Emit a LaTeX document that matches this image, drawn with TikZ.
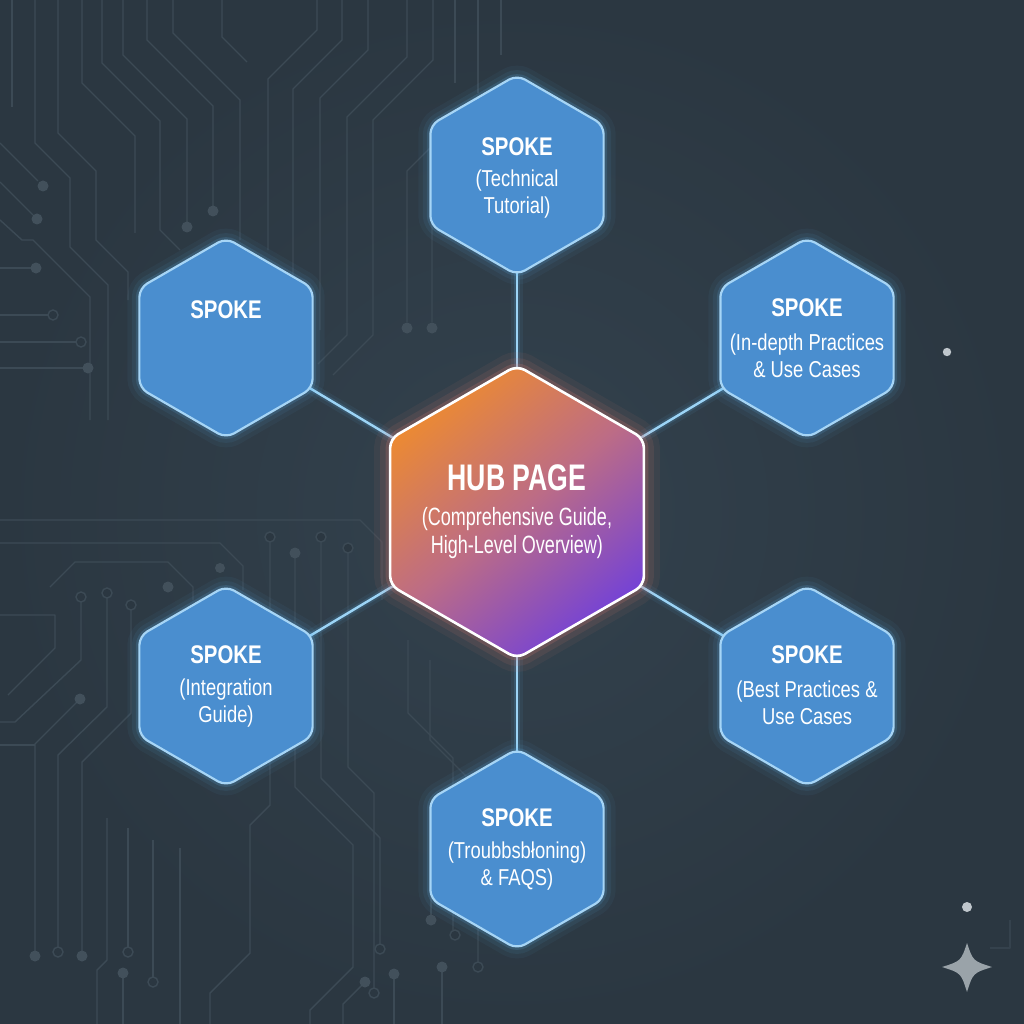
\documentclass[tikz,border=0pt]{standalone}
\usepackage{fontspec}
\newfontfamily\condfont{Liberation Sans}[FakeStretch=0.8]
\newfontfamily\narrowfont{Liberation Sans}[FakeStretch=0.72]
\usetikzlibrary{shapes.geometric}
\definecolor{bgc}{HTML}{2B3741}
\definecolor{bgin}{HTML}{33424E}
\definecolor{tracec}{HTML}{3C4A55}
\definecolor{tdotc}{HTML}{42505B}
\definecolor{spokefill}{HTML}{4A8ECF}
\definecolor{spokeedge}{HTML}{A6D5F6}
\definecolor{glowc}{HTML}{5FB2EE}
\definecolor{linkc}{HTML}{9CD4F6}
\definecolor{hubA}{HTML}{EC8A32}
\definecolor{hubB}{HTML}{BC6C86}
\definecolor{hubC}{HTML}{7442D6}
\definecolor{hubglow}{HTML}{D87A70}
\definecolor{sparkc}{HTML}{9AA3A9}
\definecolor{dotc}{HTML}{BFC6CC}
\pgfdeclarelayer{bglayer}
\pgfdeclarelayer{linklayer}
\pgfsetlayers{bglayer,linklayer,main}
\tikzset{
  hexbase/.style={regular polygon, regular polygon sides=6, shape border rotate=30,
    inner sep=0pt, rounded corners=9pt},
  spokehex/.style={hexbase, minimum size=200pt, fill=spokefill, draw=spokeedge, line width=2.2pt,
    preaction={draw=glowc, line width=24pt, draw opacity=0.05},
    preaction={draw=glowc, line width=15pt, draw opacity=0.08},
    preaction={draw=glowc, line width=7pt, draw opacity=0.16}},
  hubhex/.style={hexbase, minimum size=293pt, draw=white, line width=2.6pt,
    preaction={draw=hubglow, line width=32pt, draw opacity=0.07},
    preaction={draw=hubglow, line width=20pt, draw opacity=0.11},
    preaction={draw=hubglow, line width=9pt, draw opacity=0.2},
    top color=hubA, bottom color=hubC, middle color=hubB, shading angle=40},
  spoketitle/.style={font=\condfont\bfseries\fontsize{25.5}{28}\selectfont, text=white,
    align=center, inner sep=0pt},
  spokesub/.style={font=\condfont\fontsize{23}{27}\selectfont, text=white,
    align=center, inner sep=0pt},
  hubtitle/.style={font=\narrowfont\bfseries\fontsize{37}{40}\selectfont, text=white,
    align=center, inner sep=0pt},
  hubsub/.style={font=\narrowfont\fontsize{25}{28}\selectfont, text=white,
    align=center, inner sep=0pt},
  link/.style={draw=linkc, line width=2.4pt,
    preaction={draw=glowc, line width=12pt, draw opacity=0.07},
    preaction={draw=glowc, line width=6pt, draw opacity=0.15}},
  trace/.style={draw=tracec, line width=1.4pt, line join=round},
  tdot/.style={fill=tdotc},
  tring/.style={draw=tracec, line width=1.4pt, fill=bgc}
}
\begin{document}
\begin{tikzpicture}[x=1pt,y=-1pt]
\useasboundingbox (0,0) rectangle (1024,1024);
\begin{pgfonlayer}{bglayer}
\fill[bgc] (0,0) rectangle (1024,1024);
\shade[inner color=bgin, outer color=bgc] (0,0) rectangle (1024,1024);
% circuit traces, upper left
\draw[trace] (12,0)--(12,107);
\draw[trace] (35,0)--(35,143)--(70,178)--(70,247)--(108,285)--(108,420);
\draw[trace] (58,0)--(58,133)--(96,171)--(96,240)--(128,272)--(128,300);
\draw[trace] (82,0)--(82,83)--(135,136)--(135,233);
\draw[trace] (102,0)--(102,63)--(160,121)--(160,230)--(180,250);
\draw[trace] (123,0)--(123,55)--(187,119)--(187,222);
\draw[trace] (147,0)--(147,40)--(213,106)--(213,206);
\draw[trace] (173,0)--(173,33)--(240,100)--(240,240);
\draw[trace] (222,0)--(222,37)--(247,62);
\draw[trace] (317,0)--(317,30)--(268,79)--(268,250);
\draw[trace] (342,0)--(342,40)--(293,89)--(293,300);
\draw[trace] (368,0)--(368,50)--(320,98)--(320,330);
\draw[trace] (407,0)--(407,57)--(347,117)--(347,335)--(318,364);
\draw[trace] (433,0)--(433,60)--(373,120)--(373,335)--(333,375);
\draw[trace] (455,0)--(455,83);
\draw[trace] (478,0)--(478,93);
\draw[trace] (501,0)--(501,55);
\draw[trace] (430,148)--(407,171)--(407,322);
\draw[trace] (457,158)--(432,183)--(432,322);
\draw[trace] (0,143)--(38,181);
\draw[trace] (0,182)--(33,215);
\draw[trace] (0,220)--(22,240)--(33,240)--(90,297)--(90,420);
\draw[trace] (0,268)--(31,268);
\draw[trace] (0,315)--(48,315);
\draw[trace] (0,342)--(76,342);
\draw[trace] (0,368)--(83,368);
\fill[tdot] (187,227) circle (5.5) (213,211) circle (5.5) (407,328) circle (5.5)
  (432,328) circle (5.5) (43,186) circle (5.5) (37,219) circle (5.5)
  (36,268) circle (5.5) (88,368) circle (5.5);
\draw[tring] (53,315) circle (5) (81,342) circle (5);
% circuit traces, lower left
\draw[trace] (0,520)--(360,520)--(382,542)--(382,600);
\draw[trace] (0,543)--(220,543)--(243,566)--(243,590);
\draw[trace] (50,587)--(75,562)--(168,562)--(193,587)--(193,600);
\draw[trace] (0,615)--(55,615)--(55,648)--(8,695);
\draw[trace] (81,602)--(81,660)--(15,722)--(0,722);
\draw[trace] (107,598)--(107,707)--(58,755)--(58,947);
\draw[trace] (131,610)--(131,713)--(82,762)--(82,951);
\draw[trace] (80,699)--(35,744)--(35,951);
\draw[trace] (0,745)--(35,745);
\draw[trace] (270,542)--(270,805)--(250,825)--(250,953)--(210,993)--(210,1024);
\draw[trace] (295,558)--(295,787)--(353,845)--(353,967)--(310,1010)--(310,1024);
\draw[trace] (321,542)--(321,778)--(380,838)--(380,944);
\draw[trace] (348,553)--(348,767)--(374,793)--(374,988);
\draw[trace] (408,640)--(408,713)--(453,758)--(453,930);
\draw[trace] (430,660)--(430,740)--(478,788)--(478,962);
\draw[trace] (107,818)--(107,960)--(97,970)--(97,1024);
\draw[trace] (128,828)--(128,947);
\draw[trace] (153,840)--(153,977);
\draw[trace] (180,848)--(180,1024);
\draw[trace] (123,978)--(123,1024);
\draw[trace] (365,982)--(343,1004)--(343,1024);
\draw[trace] (394,979)--(394,1024);
\draw[trace] (442,972)--(442,1024);
\draw[trace] (431,850)--(431,915);
\fill[tdot] (80,699) circle (5.5) (82,956) circle (5.5) (35,956) circle (5.5)
  (295,553) circle (5.5) (123,973) circle (5.5) (365,982) circle (5.5)
  (394,974) circle (5.5) (442,967) circle (5.5) (431,920) circle (5.5)
  (168,587) circle (5.5) (220,568) circle (5);
\draw[tring] (81,597) circle (5) (107,593) circle (5) (131,605) circle (5)
  (58,952) circle (5) (270,537) circle (5) (321,537) circle (5) (348,548) circle (5)
  (380,949) circle (5) (374,993) circle (5) (455,935) circle (5) (478,967) circle (5)
  (128,952) circle (5) (153,982) circle (5);
\draw[trace, opacity=0.6] (1010,920)--(1010,948)--(990,948);
\end{pgfonlayer}

% nodes
\node[hubhex] (hub) at (517,512) {};
\node[spokehex] (stop) at (517,175) {};
\node[spokehex] (sul) at (226,338) {};
\node[spokehex] (sur) at (807,338) {};
\node[spokehex] (sll) at (226,686) {};
\node[spokehex] (slr) at (807,686) {};
\node[spokehex] (sbot) at (517,849) {};

% connectors
\begin{pgfonlayer}{linklayer}
\draw[link] (hub.center) -- (stop.center);
\draw[link] (hub.center) -- (sul.center);
\draw[link] (hub.center) -- (sur.center);
\draw[link] (hub.center) -- (sll.center);
\draw[link] (hub.center) -- (slr.center);
\draw[link] (hub.center) -- (sbot.center);
\end{pgfonlayer}

% labels
\node[hubtitle] (hubt) at (517,478) {HUB PAGE};
\node[hubsub] (hubs) at (517,533) {(Comprehensive Guide,\\High-Level Overview)};
\node[spoketitle] (ttop) at (517,147) {SPOKE};
\node[spokesub] (utop) at (517,194) {(Technical\\Tutorial)};
\node[spoketitle] (tul) at (226,310) {SPOKE};
\node[spoketitle] (tur) at (807,308) {SPOKE};
\node[spokesub] (uur) at (807,356) {(In-depth Practices\\\& Use Cases};
\node[spoketitle] (tll) at (226,655) {SPOKE};
\node[spokesub] (ull) at (226,703) {(Integration\\Guide)};
\node[spoketitle] (tlr) at (807,655) {SPOKE};
\node[spokesub] (ulr) at (807,703) {(Best Practices \&\\Use Cases};
\node[spoketitle] (tbot) at (517,818) {SPOKE};
\node[spokesub] (ubot) at (517,866) {(Troubbsbłoning)\\\& FAQS)};

% decorations
\fill[dotc] (947,352) circle (4.2);
\fill[dotc] (967,907) circle (5);
\fill[sparkc] (967,943) .. controls (973,961) .. (992,967)
  .. controls (973,973) .. (967,992) .. controls (961,973) .. (942,967)
  .. controls (961,961) .. (967,943) -- cycle;
\end{tikzpicture}
\end{document}
